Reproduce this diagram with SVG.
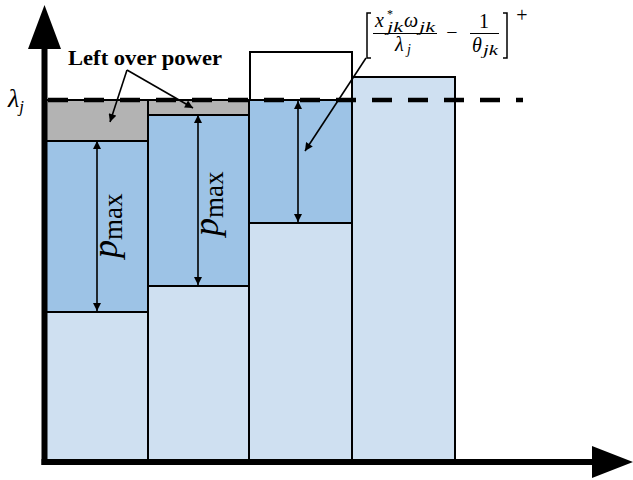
<svg xmlns="http://www.w3.org/2000/svg" width="633" height="480" viewBox="0 0 633 480">
<defs>
<style>
.light{fill:#cfe0f1;stroke:#000;stroke-width:2}
.blue{fill:#9dc3e6;stroke:#000;stroke-width:2}
.gray{fill:#b3b3b3;stroke:#000;stroke-width:2}
.white{fill:#fff;stroke:#000;stroke-width:2}
.ar{stroke:#000;stroke-width:1.6;fill:none}
.m{font-family:"Liberation Serif","Times New Roman",serif;fill:#000}
.i{font-style:italic}
</style>
<marker id="ah" viewBox="0 0 10 10" refX="10" refY="5" markerWidth="10" markerHeight="8" markerUnits="userSpaceOnUse" orient="auto-start-reverse">
<path d="M0,0 L10,5 L0,10 z" fill="#000"/>
</marker>
</defs>
<rect width="633" height="480" fill="#fff"/>
<g id="bar1">
<rect class="light" x="44" y="312" width="104" height="150"/>
<rect class="blue" x="44" y="141" width="104" height="171"/>
<rect class="gray" x="44" y="100" width="104" height="41"/>
</g>
<g id="bar2">
<rect class="light" x="148" y="286" width="101" height="176"/>
<rect class="blue" x="148" y="115" width="101" height="171"/>
<rect class="gray" x="148" y="100" width="101" height="15"/>
</g>
<g id="bar3">
<rect class="light" x="249" y="223" width="103" height="239"/>
<rect class="blue" x="249" y="100" width="103" height="123"/>
<rect class="white" x="250" y="52" width="102" height="48"/>
</g>
<g id="bar4">
<rect class="light" x="352" y="77" width="103" height="385"/>
</g>
<g id="axes">
<line x1="44.5" y1="465" x2="44.5" y2="45" stroke="#000" stroke-width="6"/>
<path d="M44.5,5 L61,49 L28,49 z" fill="#000"/>
<line x1="41.5" y1="462" x2="595" y2="462" stroke="#000" stroke-width="6"/>
<path d="M633,462 L592,446 L592,478 z" fill="#000"/>
</g>
<g id="level">
<line x1="48" y1="100" x2="523" y2="100" stroke="#000" stroke-width="4.5" stroke-dasharray="20 16"/>
<text class="m i" x="8" y="107" font-size="26">λ<tspan font-size="17" dy="5">j</tspan></text>
</g>
<g id="connectors">
<line class="ar" x1="97" y1="141" x2="97" y2="311" marker-start="url(#ah)" marker-end="url(#ah)"/>
<line class="ar" x1="198" y1="115" x2="198" y2="285" marker-start="url(#ah)" marker-end="url(#ah)"/>
<line class="ar" x1="298" y1="101" x2="298" y2="222" marker-start="url(#ah)" marker-end="url(#ah)"/>
<line class="ar" x1="127" y1="70" x2="110" y2="122" marker-end="url(#ah)"/>
<line class="ar" x1="127" y1="70" x2="193" y2="108" marker-end="url(#ah)"/>
<line class="ar" x1="366" y1="58" x2="305" y2="151" marker-end="url(#ah)"/>
</g>
<g id="label-leftover">
<text class="m" x="68" y="65" font-size="21" font-weight="bold" textLength="154" lengthAdjust="spacingAndGlyphs">Left over power</text>
</g>
<g id="label-pmax1">
<text class="m" transform="translate(117,258) rotate(-90)" font-size="36"><tspan class="i">p</tspan><tspan font-size="27" dy="5">max</tspan></text>
</g>
<g id="label-pmax2">
<text class="m" transform="translate(218,236) rotate(-90)" font-size="36"><tspan class="i">p</tspan><tspan font-size="27" dy="5">max</tspan></text>
</g>
<g id="formula">
<path d="M371,13 H367 V58 H371" fill="none" stroke="#000" stroke-width="1.5"/>
<path d="M503,13 H507 V58 H503" fill="none" stroke="#000" stroke-width="1.5"/>
<text class="m i" x="375" y="27" font-size="20">x</text>
<text class="m" x="387" y="18" font-size="12">*</text>
<text class="m i" x="387" y="32" font-size="14" textLength="16" lengthAdjust="spacingAndGlyphs">jk</text>
<text class="m i" x="404" y="27" font-size="20">ω</text>
<text class="m i" x="419" y="32" font-size="14" textLength="16" lengthAdjust="spacingAndGlyphs">jk</text>
<line x1="373" y1="33.5" x2="437" y2="33.5" stroke="#000" stroke-width="1"/>
<text class="m i" x="395" y="51" font-size="20">λ</text>
<text class="m i" x="407" y="54" font-size="14">j</text>
<text class="m" x="452" y="39" font-size="20" text-anchor="middle">−</text>
<text class="m" x="484" y="28" font-size="20" text-anchor="middle">1</text>
<line x1="470" y1="33.5" x2="499" y2="33.5" stroke="#000" stroke-width="1"/>
<text class="m i" x="472" y="52" font-size="20">θ</text>
<text class="m i" x="483" y="55" font-size="14" textLength="15" lengthAdjust="spacingAndGlyphs">jk</text>
<text class="m" x="522" y="22" font-size="20" text-anchor="middle">+</text>
</g>
</svg>
